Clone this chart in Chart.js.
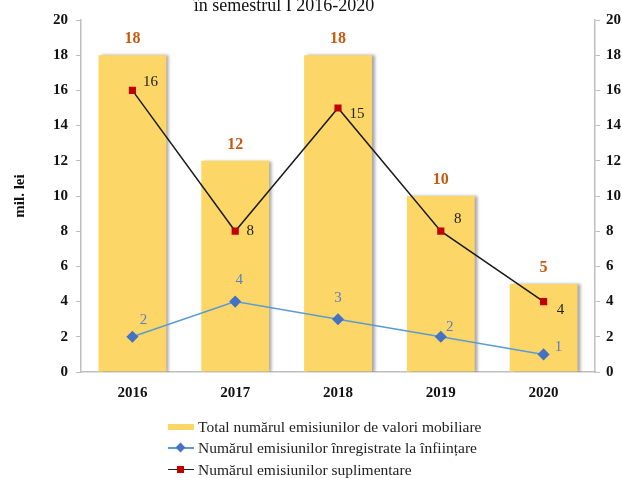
<!DOCTYPE html>
<html>
<head>
<meta charset="utf-8">
<script src="https://cdn.jsdelivr.net/npm/chart.js@4.4.1/dist/chart.umd.min.js"></script>
<style>
  html, body { margin: 0; padding: 0; background: #fff; }
  #wrap { position: relative; width: 622px; height: 478px; }
  #legend {
    position: absolute; left: 168px; top: 416px;
    font: 15.5px 'Liberation Serif', 'Times New Roman', serif; color: #222;
  }
  .row { height: 21.5px; display: flex; align-items: center; }
  .mark { position: relative; width: 26px; height: 10px; margin-right: 4px; }
  .bar { position: absolute; left: 0; top: 2px; width: 26px; height: 6px; background: #fcd767; }
  .ln { position: absolute; left: 0; top: 4px; width: 26px; height: 1.5px; }
  .dia { position: absolute; left: 9px; top: 1px; width: 7px; height: 7px; background: #4472c4; transform: rotate(45deg); }
  .sq { position: absolute; left: 9px; top: 1px; width: 7px; height: 7px; background: #c00000; }
</style>
</head>
<body>
<div id="wrap">
  <canvas id="chart" width="622" height="478"></canvas>
  <div id="legend">
    <div class="row"><span class="mark"><span class="bar"></span></span>Total numărul emisiunilor de valori mobiliare</div>
    <div class="row"><span class="mark"><span class="ln" style="background:#5b9bd5"></span><span class="dia"></span></span>Numărul emisiunilor înregistrate la înființare</div>
    <div class="row"><span class="mark"><span class="ln" style="background:#222"></span><span class="sq"></span></span>Numărul emisiunilor suplimentare</div>
  </div>
</div>
<script>
// ---------- Data ----------
const years = ['2016', '2017', '2018', '2019', '2020'];
const totalIssues = [18, 12, 18, 10, 5];
const registeredAtFounding = [2, 4, 3, 2, 1];
const additionalIssues = [16, 8, 15, 8, 4];
const seriesNames = [
    'Total numărul emisiunilor de valori mobiliare',
    'Numărul emisiunilor înregistrate la înființare',
    'Numărul emisiunilor suplimentare'
];
const titleText = 'în semestrul I 2016-2020';
const axisTitle = 'mil. lei';

const SERIF = "'Liberation Serif', 'Times New Roman', serif";

// --- label offsets (dx, dy) per point, relative to the point ---
const labelStyle = {
    0: { color: '#c55a11', font: 'bold 16px ' + SERIF, top: true },
    1: { color: '#5b7fc0', font: '15px ' + SERIF,
         off: [[11, -17], [4, -22], [0, -21], [9, -10], [15, -7]] },
    2: { color: '#222', font: '15px ' + SERIF,
         off: [[18, -8], [15, 0], [19, 6], [17, -12], [17, 8]] }
};

// --- Shadow behind the bars ---
const barShadow = {
    id: 'barShadow',
    beforeDatasetDraw(chart, args) {
        if (args.index !== 0) return;
        const ctx = chart.ctx;
        ctx.save();
        ctx.shadowColor = 'rgba(0,0,0,0.35)';
        ctx.shadowOffsetX = 3;
        ctx.shadowOffsetY = 0;
        ctx.shadowBlur = 3;
    },
    afterDatasetDraw(chart, args) {
        if (args.index === 0) chart.ctx.restore();
    }
};

// --- Value labels + clipped title ---
const valueLabels = {
    id: 'valueLabels',
    afterDatasetsDraw(chart) {
        const ctx = chart.ctx;
        ctx.save();
        ctx.textAlign = 'center';
        ctx.textBaseline = 'middle';
        chart.data.datasets.forEach((ds, i) => {
            const st = labelStyle[i];
            const meta = chart.getDatasetMeta(i);
            ctx.fillStyle = st.color;
            ctx.font = st.font;
            meta.data.forEach((el, j) => {
                const v = ds.data[j];
                if (st.top) ctx.fillText(v, el.x, el.y - 16);
                else ctx.fillText(v, el.x + st.off[j][0], el.y + st.off[j][1]);
            });
        });
        ctx.fillStyle = '#111';
        ctx.font = '18px ' + SERIF;
        ctx.textBaseline = 'alphabetic';
        ctx.fillText(titleText, 284, 11);
        ctx.restore();
    }
};

const tickFont = { family: SERIF, size: 15, weight: 'bold' };

new Chart(document.getElementById('chart').getContext('2d'), {
    type: 'bar',
    data: {
        labels: years,
        datasets: [
            {
                label: seriesNames[0],
                data: totalIssues,
                backgroundColor: '#fcd767',
                categoryPercentage: 1,
                barPercentage: 0.66,
                order: 3
            },
            {
                type: 'line',
                label: seriesNames[1],
                data: registeredAtFounding,
                borderColor: '#5b9bd5',
                borderWidth: 1.5,
                pointStyle: 'rectRot',
                pointRadius: 5,
                pointBackgroundColor: '#4472c4',
                pointBorderColor: '#4472c4',
                tension: 0,
                order: 2
            },
            {
                type: 'line',
                label: seriesNames[2],
                data: additionalIssues,
                borderColor: '#1a1a1a',
                borderWidth: 1.5,
                pointStyle: 'rect',
                pointRadius: 4,
                pointBackgroundColor: '#c00000',
                pointBorderColor: '#c00000',
                tension: 0,
                order: 1
            }
        ]
    },
    options: {
        responsive: false,
        animation: false,
        layout: { padding: { top: 20, left: 6, right: 0, bottom: 64 } },
        plugins: {
            legend: { display: false },
            tooltip: { enabled: false }
        },
        scales: {
            x: {
                grid: { display: false, drawTicks: false },
                border: { color: '#bfbfbf', width: 1.5 },
                ticks: { font: tickFont, color: '#111', padding: 12 }
            },
            y: {
                min: 0, max: 20,
                afterFit: s => { s.width = 75; },
                ticks: { stepSize: 2, font: tickFont, color: '#111', padding: 8 },
                grid: { drawOnChartArea: false, tickLength: 5, color: '#bfbfbf' },
                border: { color: '#bfbfbf', width: 1.5 },
                title: { display: true, text: axisTitle, font: tickFont, color: '#111',
                         padding: { top: 5, bottom: 17 } }
            },
            y1: {
                position: 'right',
                min: 0, max: 20,
                afterFit: s => { s.width = 27; },
                ticks: { stepSize: 2, font: tickFont, color: '#111', padding: 6 },
                grid: { drawOnChartArea: false, tickLength: 5, color: '#bfbfbf' },
                border: { color: '#bfbfbf', width: 1.5 }
            }
        }
    },
    plugins: [barShadow, valueLabels]
});
</script>
</body>
</html>
